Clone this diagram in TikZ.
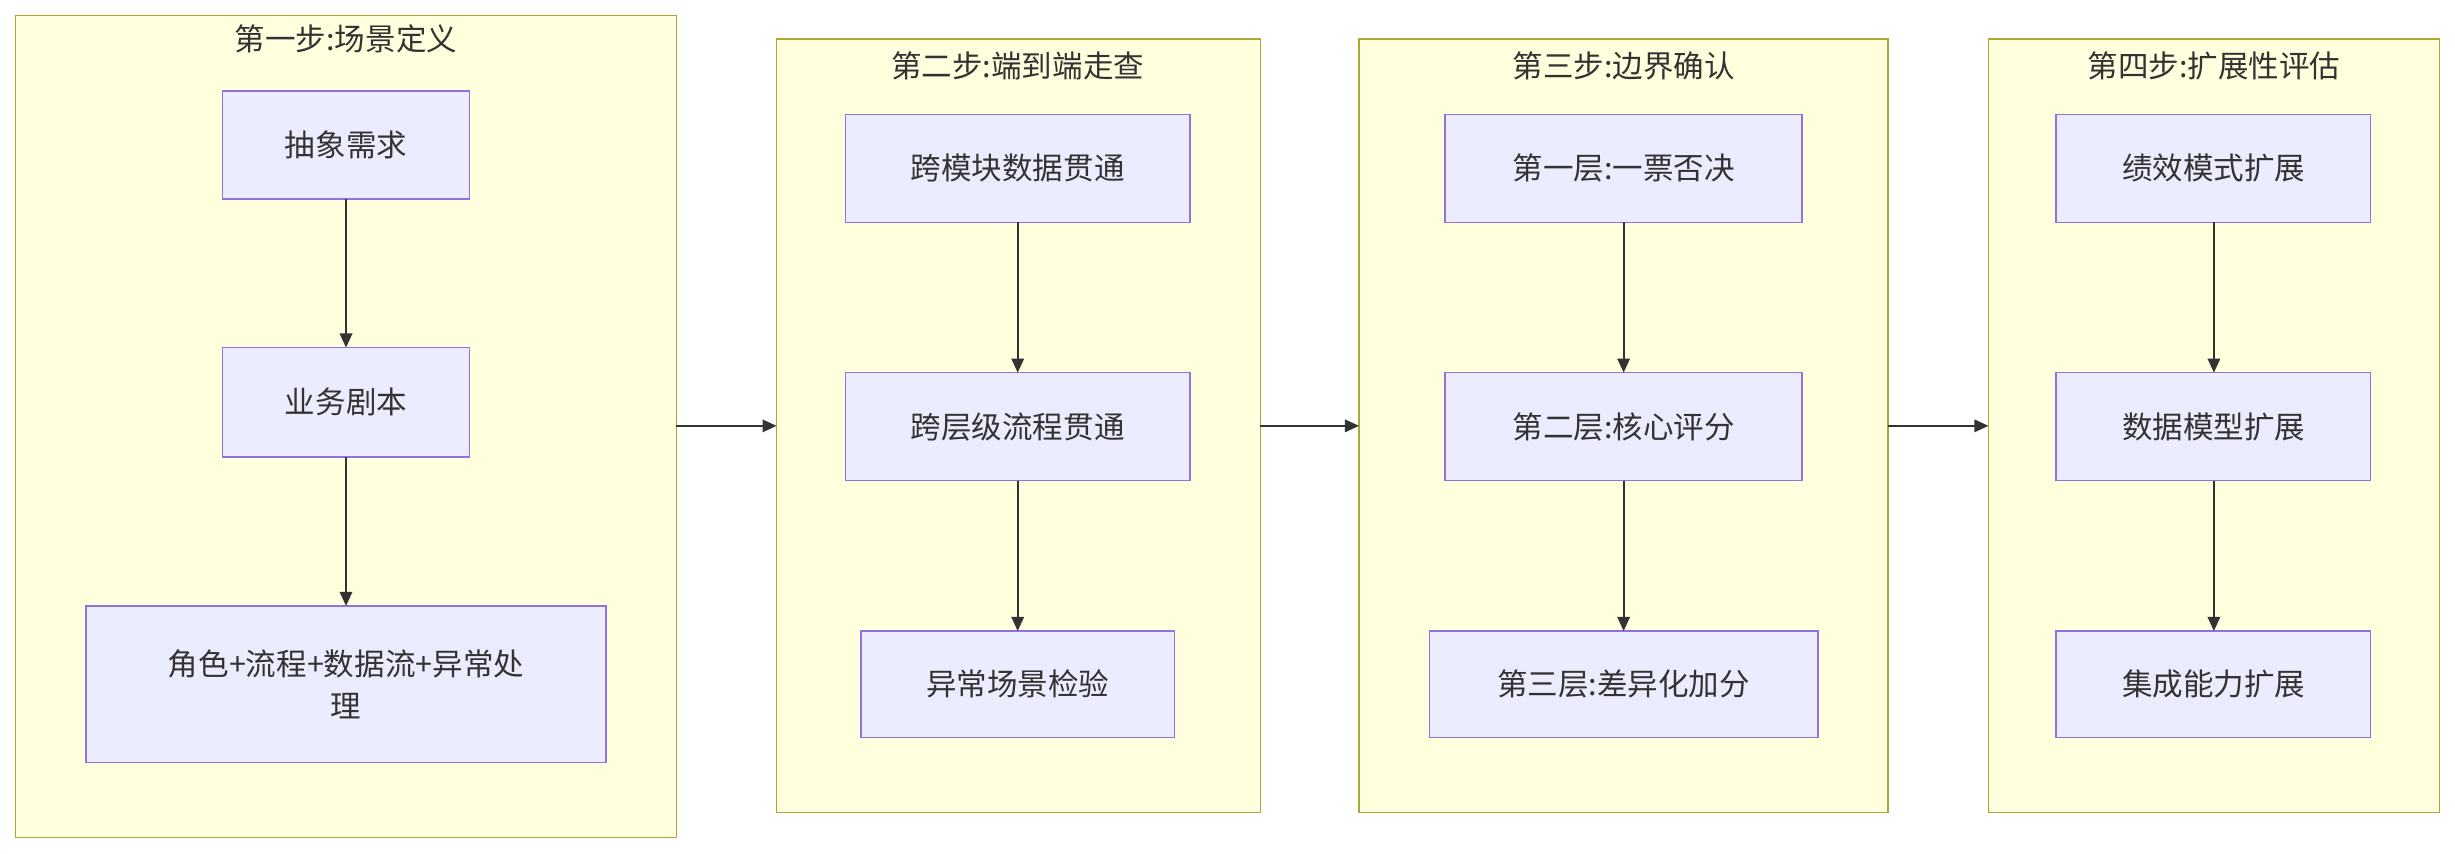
\documentclass[tikz,border=0pt]{standalone}
\usepackage{fontspec}
\setmainfont{Noto Sans CJK SC}
\usetikzlibrary{arrows.meta}
\definecolor{cb}{HTML}{AAAA33}
\definecolor{cf}{HTML}{FFFFDE}
\definecolor{nb}{HTML}{9370DB}
\definecolor{nf}{HTML}{ECECFF}
\definecolor{tx}{HTML}{333333}
\begin{document}
\begin{tikzpicture}[x=1pt,y=-1pt,
 clus/.style={draw=cb,fill=cf,line width=1pt},
 nd/.style={draw=nb,fill=nf,line width=1pt},
 lbl/.style={font=\fontsize{19.5}{27}\selectfont,text=tx,align=center},
 arr/.style={draw=tx,line width=1.1pt,-{Triangle[length=9pt,width=8pt]}}]
\useasboundingbox (0,0) rectangle (1568,545);
% clusters
\draw[clus] (10,10) rectangle (432,535);
\draw[clus] (496,25) rectangle (805,519);
\draw[clus] (868,25) rectangle (1206,519);
\draw[clus] (1270,25) rectangle (1558,519);
\node[lbl] (t1) at (221,25) {第一步:场景定义};
\node[lbl] (t2) at (650,42) {第二步:端到端走查};
\node[lbl] (t3) at (1037,42) {第三步:边界确认};
\node[lbl] (t4) at (1414,42) {第四步:扩展性评估};
\coordinate (c1r) at (432,272);
\coordinate (c2l) at (496,272);
\coordinate (c2r) at (805,272);
\coordinate (c3l) at (868,272);
\coordinate (c3r) at (1206,272);
\coordinate (c4l) at (1270,272);
% nodes
\draw[nd] (142,58) rectangle (300,127); \node[lbl] (a1) at (221,92.5) {抽象需求};
\draw[nd] (142,222) rectangle (300,292); \node[lbl] (a2) at (221,257) {业务剧本};
\draw[nd] (55,387) rectangle (387,487); \node[lbl] (a3) at (221,437) {角色+流程+数据流+异常处\\理};
\draw[nd] (540,73) rectangle (760,142); \node[lbl] (b1) at (650,107.5) {跨模块数据贯通};
\draw[nd] (540,238) rectangle (760,307); \node[lbl] (b2) at (650,272.5) {跨层级流程贯通};
\draw[nd] (550,403) rectangle (750,471); \node[lbl] (b3) at (650,437) {异常场景检验};
\draw[nd] (923,73) rectangle (1151,142); \node[lbl] (d1) at (1037,107.5) {第一层:一票否决};
\draw[nd] (923,238) rectangle (1151,307); \node[lbl] (d2) at (1037,272.5) {第二层:核心评分};
\draw[nd] (913,403) rectangle (1161,471); \node[lbl] (d3) at (1037,437) {第三层:差异化加分};
\draw[nd] (1313,73) rectangle (1514,142); \node[lbl] (e1) at (1414,107.5) {绩效模式扩展};
\draw[nd] (1313,238) rectangle (1514,307); \node[lbl] (e2) at (1414,272.5) {数据模型扩展};
\draw[nd] (1313,403) rectangle (1514,471); \node[lbl] (e3) at (1414,437) {集成能力扩展};
% arrows
\draw[arr] (221,127) -- (221,222);
\draw[arr] (221,292) -- (221,387);
\draw[arr] (650,142) -- (650,238);
\draw[arr] (650,307) -- (650,403);
\draw[arr] (1037,142) -- (1037,238);
\draw[arr] (1037,307) -- (1037,403);
\draw[arr] (1414,142) -- (1414,238);
\draw[arr] (1414,307) -- (1414,403);
\draw[arr] (c1r) -- (c2l);
\draw[arr] (c2r) -- (c3l);
\draw[arr] (c3r) -- (c4l);
\end{tikzpicture}
\end{document}
